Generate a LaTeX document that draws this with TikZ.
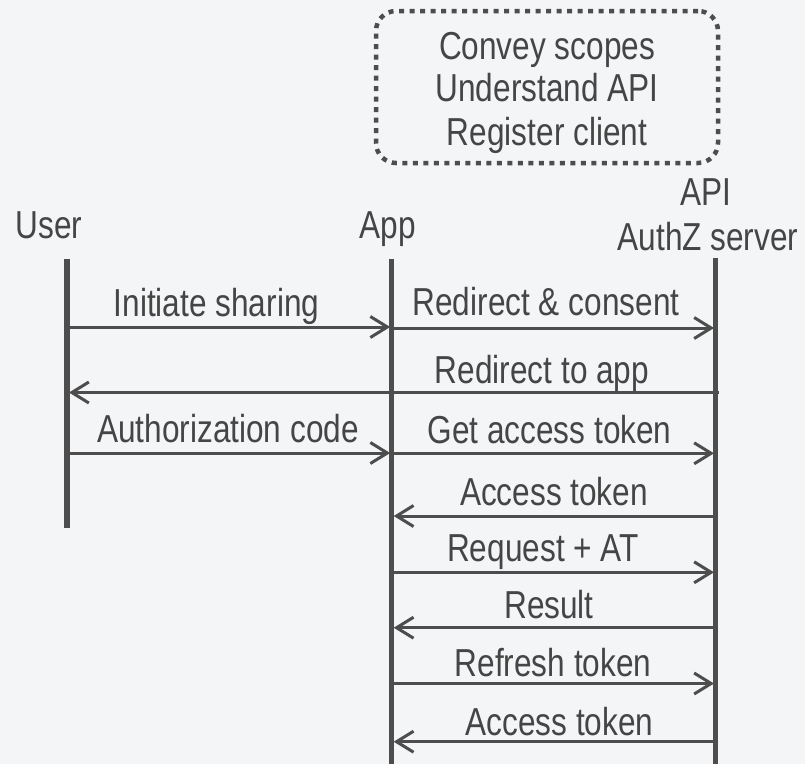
\documentclass[tikz,border=0pt]{standalone}
\usepackage{fontspec}
\setmainfont[FakeStretch=0.81]{Liberation Sans}
\usetikzlibrary{arrows.meta}
\definecolor{bg}{HTML}{F4F5F7}
\definecolor{ink}{HTML}{4D4D4D}
\definecolor{txt}{HTML}{454545}
\begin{document}
\begin{tikzpicture}[x=1pt,y=-1pt,
  lbl/.style={anchor=base, inner sep=0pt, text=txt, font=\fontsize{39}{43}\selectfont},
  lifeline/.style={draw=ink, line width=5.5pt},
  msg/.style={draw=ink, line width=3pt, -{Straight Barb[length=17pt,width=21pt,line width=3pt]}},
  notebox/.style={draw=ink, line width=4.5pt, dash pattern=on 5pt off 5.5pt, rounded corners=20pt,
    minimum width=342pt, minimum height=152pt, align=center, text=txt, inner sep=0pt,
    font=\fontsize{39}{43}\selectfont}]
\fill[bg] (0,0) rectangle (805,764);
\useasboundingbox (0,0) rectangle (805,764);

% note box
\node[notebox] (note) at (547,87) {};
\node[lbl] (n1) at (547,59.3) {Convey scopes};
\node[lbl] (n2) at (547,101) {Understand API};
\node[lbl] (n3) at (547,145) {Register client};

% headers
\node[lbl] (huser) at (49,238) {User};
\node[lbl] (happ) at (387.5,238) {App};
\node[lbl] (hapi) at (705.5,205) {API};
\node[lbl] (hauthz) at (708,250) {AuthZ server};

% lifelines
\coordinate (Ut) at (67,259);  \coordinate (Ub) at (67,528);
\coordinate (At) at (391.7,259); \coordinate (Ab) at (391.7,764);
\coordinate (St) at (715.5,258); \coordinate (Sb) at (715.5,764);
\draw[lifeline] (Ut) -- (Ub);
\draw[lifeline] (At) -- (Ab);
\draw[lifeline] (St) -- (Sb);

% messages
\draw[msg] (Ut |- 0,327) -- ([xshift=-1.5pt]At |- 0,327);
\node[lbl] (m1) at (216.5,316.7) {Initiate sharing};
\draw[msg] (At |- 0,328) -- ([xshift=-1.5pt]St |- 0,328);
\node[lbl] (m2) at (546,315.5) {Redirect \& consent};

\draw[msg] ([xshift=3pt]St |- 0,392.5) -- ([xshift=2pt]Ut |- 0,392.5);
\node[lbl] (m3) at (542,383.3) {Redirect to app};

\draw[msg] (Ut |- 0,453) -- ([xshift=-1.5pt]At |- 0,453);
\node[lbl] (m4) at (228,442.7) {Authorization code};
\draw[msg] (At |- 0,453.3) -- ([xshift=-1.5pt]St |- 0,453.3);
\node[lbl] (m5) at (549.5,443.3) {Get access token};

\draw[msg] (St |- 0,516) -- ([xshift=2pt]At |- 0,516);
\node[lbl] (m6) at (554,505) {Access token};

\draw[msg] (At |- 0,572.3) -- ([xshift=-1.5pt]St |- 0,572.3);
\node[lbl] (m7) at (543,561.7) {Request + AT};

\draw[msg] (St |- 0,627.7) -- ([xshift=2pt]At |- 0,627.7);
\node[lbl] (m8) at (549,618.3) {Result};

\draw[msg] (At |- 0,683.5) -- ([xshift=-1.5pt]St |- 0,683.5);
\node[lbl] (m9) at (553,676.7) {Refresh token};

\draw[msg] (St |- 0,741.7) -- ([xshift=2pt]At |- 0,741.7);
\node[lbl] (m10) at (559.5,735) {Access token};
\end{tikzpicture}
\end{document}
